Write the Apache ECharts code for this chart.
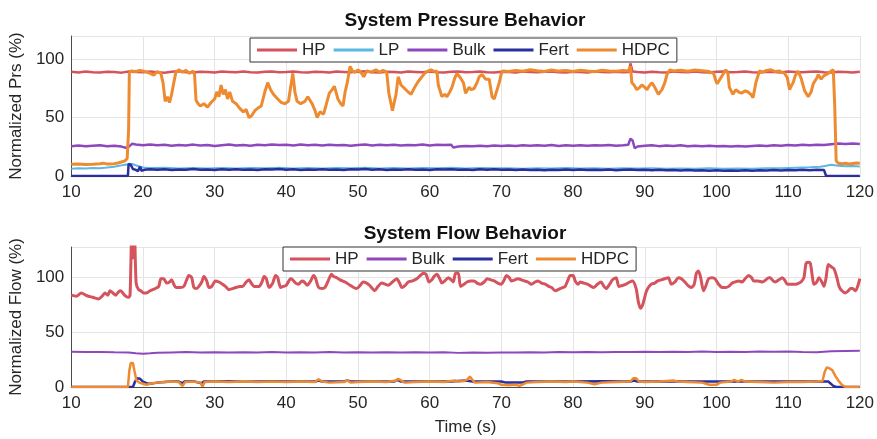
<!DOCTYPE html>
<html>
<head>
<meta charset="utf-8">
<script src="https://cdn.jsdelivr.net/npm/echarts@6/dist/echarts.min.js"></script>
<style>html,body{margin:0;padding:0;background:#fff}#c{width:877px;height:439px}</style>
</head>
<body>
<div id="c"></div>
<script>
// ---------------- data ----------------
const xTicks = [10, 120, 10];           // min, max, step of time axis (s)
const prsTicks = [0, 120, 50];          // pressure axis min, max, step (%)
const flowTicks = [0, 128, 50];         // flow axis min, max, step (%)

const prsLegend = ['HP', 'LP', 'Bulk', 'Fert', 'HDPC'];
const flowLegend = ['HP', 'Bulk', 'Fert', 'HDPC'];

const prsHP = [[10,89.3],[11,88.8],[12,89.5],[13,89.0],[14,88.7],[15,89.4],[16,89.1],[17,88.6],[18,89.6],[19,89.2],[20,88.9],[21,89.5],[22,89.0],[23,88.6],[24,89.3],[25,89.7],[26,89.0],[27,88.8],[28,89.4],[29,89.1],[30,88.7],[31,89.5],[32,89.2],[33,88.9],[34,89.6],[35,89.0],[36,88.8],[37,89.3],[38,89.5],[39,88.9],[40,89.2],[41,89.6],[42,89.0],[43,88.7],[44,89.4],[45,89.1],[46,88.8],[47,89.5],[48,89.2],[49,88.9],[50,89.3],[51,89.7],[52,89.0],[53,88.8],[54,89.4],[55,89.1],[56,88.7],[57,89.5],[58,89.2],[59,88.9],[60,89.6],[61,89.0],[62,88.7],[63,89.3],[64,89.5],[65,88.9],[66,89.2],[67,89.6],[68,89.0],[69,88.8],[70,89.4],[71,89.1],[72,88.7],[73,89.5],[74,89.2],[75,88.9],[76,89.3],[77,89.6],[78,89.0],[79,88.8],[80,89.4],[81,89.1],[82,88.7],[83,89.5],[84,89.2],[85,88.9],[86,89.3],[87,89.0],[87.8,89.2],[88,96.5],[88.3,89.5],[89,89.1],[90,88.7],[91,89.4],[92,89.0],[93,88.8],[94,89.5],[95,89.2],[96,88.9],[97,89.6],[98,89.0],[99,88.7],[100,89.3],[101,89.5],[102,88.9],[103,89.2],[104,89.6],[105,89.0],[106,88.8],[107,89.4],[108,89.1],[109,88.7],[110,89.5],[111,89.2],[112,88.9],[113,89.3],[114,89.6],[115,89.0],[116,88.8],[117,89.4],[118,89.1],[119,88.7],[120,89.3]];

const prsLP = [[10,6.3],[11,6.7],[12,6.4],[13,6.8],[14,6.6],[15,7.2],[16,7.9],[16.5,8.5],[17,9.1],[17.5,9.6],[18,10.0],[18.5,10.3],[19,9.2],[19.5,8.2],[20,7.3],[21,6.8],[23,7.0],[25,6.4],[27,6.8],[29,6.5],[31,6.9],[33,6.4],[35,6.8],[37,6.6],[39,7.0],[41,6.5],[43,6.8],[45,6.4],[47,6.9],[49,6.6],[51,7.0],[53,6.5],[55,6.8],[57,6.4],[59,6.9],[61,6.7],[63,7.0],[65,6.5],[67,6.8],[69,6.6],[71,6.7],[73,6.3],[75,6.6],[77,6.4],[79,6.8],[81,6.5],[83,6.7],[85,6.3],[87,6.6],[89,6.4],[91,6.7],[93,6.3],[95,6.5],[97,6.2],[99,6.6],[101,6.3],[103,6.5],[105,6.2],[107,6.6],[109,6.7],[111,7.1],[113,7.4],[114.5,8.0],[115.3,8.8],[116,9.6],[117,8.7],[118,8.3],[119,8.5],[120,8.1]];

const prsBulk = [[10,25.6],[11,26.1],[12,25.4],[13,25.9],[14,26.3],[15,25.5],[16,26.0],[17,25.2],[17.6,24.2],[18,25.0],[18.5,27.6],[19,27.0],[20,26.3],[21,27.0],[22,26.4],[23,26.8],[24,26.0],[25,26.6],[26,26.2],[27,26.9],[28,26.1],[29,26.5],[30,25.8],[31,26.4],[32,26.9],[33,26.2],[34,26.6],[35,26.0],[36,26.7],[37,26.3],[38,27.0],[39,26.5],[40,26.8],[41,26.2],[42,26.9],[43,26.4],[44,26.7],[45,26.1],[46,26.8],[47,26.3],[48,26.6],[49,26.0],[50,26.5],[51,26.9],[52,26.2],[53,26.7],[54,26.3],[55,26.8],[56,26.1],[57,26.6],[58,26.4],[59,26.9],[60,26.2],[61,26.7],[62,26.5],[63,26.8],[63.3,24.5],[64,25.3],[65,25.8],[66,25.4],[67,26.0],[68,25.6],[69,26.1],[70,25.7],[71,26.2],[72,25.8],[73,26.3],[74,25.9],[75,26.4],[76,26.0],[77,26.5],[78,25.8],[79,26.3],[80,26.0],[81,26.4],[82,25.9],[83,26.3],[84,26.1],[85,26.6],[86,25.9],[87,26.4],[87.7,26.8],[88,32.0],[88.3,30.5],[88.6,23.8],[89,25.3],[90,25.9],[91,26.4],[92,25.6],[93,26.1],[94,25.8],[95,26.3],[96,25.6],[97,26.0],[98,25.4],[99,25.9],[100,25.5],[101,25.8],[102,25.2],[103,25.7],[104,25.3],[105,25.8],[106,26.2],[107,25.7],[108,26.3],[109,26.0],[110,26.5],[111,26.1],[112,26.7],[113,26.3],[114,26.8],[115,26.5],[116,27.2],[117,27.8],[118,27.4],[119,27.9],[120,27.5]];

const prsFert = [[10,0],[17.9,0],[18.0,10.5],[18.3,9.5],[18.6,6],[19,5.2],[19.3,4.2],[19.6,8],[19.8,4.5],[20.2,5.3],[21,5.8],[22,5.3],[23,5.7],[24,5.2],[25,5.6],[26,5.4],[27,5.9],[28,5.3],[29,5.6],[30,5.2],[31,5.7],[32,5.4],[33,5.8],[34,5.3],[35,5.6],[36,5.2],[37,5.7],[38,5.5],[39,5.9],[40,5.4],[41,5.7],[42,5.2],[43,5.6],[44,5.4],[45,5.8],[46,5.3],[47,5.6],[48,5.2],[49,5.7],[50,5.5],[51,5.9],[52,5.4],[53,5.7],[54,5.2],[55,5.6],[56,5.4],[57,5.8],[58,5.3],[59,5.6],[60,5.2],[61,5.7],[62,5.5],[63,5.8],[64,5.3],[65,5.6],[66,5.2],[67,5.7],[68,5.4],[69,5.8],[70,5.3],[71,5.6],[72,5.2],[73,5.5],[74,5.1],[75,5.4],[76,5.0],[77,5.3],[78,5.1],[79,5.5],[80,5.2],[81,5.6],[82,5.1],[83,5.4],[84,5.2],[85,5.5],[86,5.0],[87,5.4],[88,5.6],[89,5.1],[90,5.4],[91,5.0],[92,5.3],[93,4.9],[94,5.2],[95,4.8],[96,5.1],[97,4.7],[98,5.0],[99,4.6],[100,4.9],[101,4.5],[102,4.8],[103,4.5],[104,4.9],[105,4.6],[106,5.0],[107,4.7],[108,5.1],[109,4.8],[110,5.2],[111,4.9],[112,5.3],[113,5.0],[114,5.4],[115,5.2],[115.25,5.0],[115.3,0],[120,0]];

const prsHDPC = [[10,10.0],[11,10.3],[12,9.8],[13,10.1],[14,10.5],[14.5,11.0],[15,10.2],[16,10.6],[16.5,11.2],[17,12.0],[17.5,13.0],[17.8,15.0],[18.0,40],[18.1,88],[18.3,90],[19,89.5],[19.5,90.5],[20,90],[20.5,89],[21,88],[21.5,86.5],[22,89.5],[22.5,88],[22.8,80],[23.1,64],[23.4,68],[23.7,63],[24.0,70],[24.3,80],[24.6,89],[25,91],[25.5,89],[26,90.5],[26.5,88],[27,90],[27.2,87],[27.4,65],[27.7,62],[28,60],[28.5,62],[29,59],[29.5,63],[30,66],[30.3,72],[30.6,68],[30.9,78],[31.2,70],[31.5,74],[31.8,66],[32.1,72],[32.5,64],[33,62],[33.5,58],[34,55],[34.4,57],[34.8,50],[35.2,52],[35.6,56],[36,58],[36.5,60],[37,72],[37.4,80],[37.8,74],[38.2,70],[38.8,66],[39.3,63],[39.8,62],[40.3,64],[40.7,80],[40.9,88],[41.2,72],[41.5,64],[42,62],[42.6,64],[43,68],[43.6,62],[44,56],[44.3,50],[44.7,55],[45.2,53],[45.6,62],[46,71],[46.4,74],[46.7,77],[47.2,66],[47.6,62],[47.9,60],[48.2,72],[48.5,80],[48.9,94],[49.2,90],[49.6,89],[50,91],[50.5,88],[50.8,85],[51.2,90],[51.8,89],[52.5,91],[53,89],[53.5,90.5],[54,89],[54.3,71],[54.8,56],[55.3,70],[55.6,85],[56,78],[56.5,75],[57,72],[57.4,70],[57.9,76],[58.4,81],[58.9,85],[59.3,88],[59.8,90],[60.2,91],[60.7,89.5],[61,90],[61.2,78],[61.7,68],[62.1,70],[62.4,68],[62.8,72],[63.1,76],[63.5,84],[63.8,88],[64.3,84],[64.7,80],[65,71],[65.5,76],[65.8,74],[66.2,75],[66.6,80],[66.9,85],[67.3,87],[67.8,83],[68.3,83],[68.7,68],[69,66],[69.2,70],[69.5,76],[69.7,80],[70.0,88],[70.2,90],[71,89.5],[72,90.5],[73,89.8],[74,91],[75,90.2],[76,89.6],[77,90.8],[78,89.9],[79,90.4],[80,89.5],[81,90.7],[82,90],[83,89.4],[84,90.6],[85,90.1],[86,89.7],[87,90.5],[87.7,90],[88,94],[88.2,80],[88.5,78],[88.9,74],[89.3,76],[89.6,78],[90,76],[90.3,74],[90.6,77],[91,80],[91.4,76],[91.9,70],[92.4,74],[92.8,80],[93.1,87],[93.5,91],[94,90],[95,90.6],[96,89.8],[97,90.8],[98,90.2],[99,89.5],[99.6,88],[99.9,82],[100.1,79],[100.4,82],[100.6,84],[101,88],[101.3,91],[101.6,88],[101.8,76],[102.3,70],[102.7,74],[103.1,72],[103.5,71],[104,73],[104.4,72],[104.8,70],[105.1,67],[105.5,80],[106,90],[106.5,89],[107,90.5],[107.6,91],[108.2,89.5],[108.8,90],[109.5,88],[109.9,84],[110.2,74],[110.5,78],[110.7,80],[111,86],[111.4,90],[111.8,84],[112.3,73],[112.8,68],[113.2,72],[113.5,79],[114,84],[114.2,87],[114.6,83],[115,86],[115.6,88],[116,90],[116.3,91],[116.5,60],[116.7,13],[117,11],[117.5,10.5],[118,11],[118.5,10.3],[119,10.8],[119.5,11.2],[120,11]];

const flowHP = [[10,84],[10.7,83],[11.4,86],[12,84],[12.4,83],[13,82],[13.8,80.5],[14.3,83],[14.7,86],[15.1,84],[15.4,88],[15.8,86],[16.2,84],[16.6,87],[16.9,88],[17.3,85],[17.6,83],[18.0,82],[18.2,84],[18.45,145],[18.6,118],[18.8,145],[19.05,95],[19.4,89],[19.7,88],[20.1,86],[20.5,86],[21,88],[21.7,90],[22.2,92],[22.5,99],[22.9,99],[23.3,95],[23.7,96],[24,98],[24.3,94],[24.6,91],[25.2,91],[25.7,92],[26.1,98],[26.4,102],[26.8,100],[27.1,91],[27.5,90],[27.8,92],[28.2,96],[28.5,101],[28.9,97],[29.2,91],[29.6,92],[30.1,97],[30.6,96],[31.1,94],[31.5,92],[32,89],[32.5,90],[33,91],[33.5,92],[33.9,92],[34.4,96],[34.8,98],[35.1,95],[35.5,92],[36.2,92],[36.6,96],[36.9,101],[37.2,99],[37.6,91],[38.1,95],[38.5,102],[38.8,100],[39.2,91],[39.6,92],[40,93],[40.6,99],[40.9,98],[41.3,95],[41.7,94],[42.2,97],[42.5,96],[42.9,93],[43.4,97],[43.8,102],[44.1,99],[44.5,91],[45,90],[45.4,91],[45.9,98],[46.3,103],[46.6,101],[47,100],[47.5,98],[48.2,96],[48.9,93],[49.4,91],[49.8,90],[50.3,93],[50.7,96],[51.2,95],[51.6,93],[52,90],[52.3,88],[52.8,92],[53.3,95],[53.8,94],[54.2,93],[54.8,96],[55.4,99],[55.8,95],[56.1,91],[56.6,93],[57,96],[57.6,97],[58.2,99],[58.7,102],[59.1,104],[59.5,103],[59.9,96],[60.3,98],[60.6,101],[61,103],[61.4,99],[61.7,95],[62.1,97],[62.6,100],[63,98],[63.3,96],[63.6,104],[64,104],[64.3,92],[64.8,94],[65.2,96],[65.7,97],[66.2,97],[66.6,95],[67.1,94],[67.6,96],[68,99],[68.5,98],[69,97],[69.5,95],[70,94],[70.4,98],[70.7,102],[71.1,100],[71.4,97],[71.9,98],[72.3,99],[72.8,98],[73.2,97],[73.7,96],[74.2,94],[74.7,96],[75.1,97],[75.6,95],[76.1,94],[76.6,92],[77,91],[77.5,88],[78.2,90],[78.6,91],[78.9,92],[79.3,98],[79.6,102],[80,102],[80.3,97],[80.7,94],[81,96],[81.5,95],[82,94],[82.5,92],[82.9,91],[83.4,94],[83.9,96],[84.3,92],[84.6,90],[85.1,94],[85.5,98],[86,100],[86.4,92],[87,93],[87.4,94],[87.9,96],[88.3,97],[88.8,90],[89.1,78],[89.4,72],[89.7,75],[90,82],[90.2,87],[90.5,91],[90.9,94],[91.4,95],[91.8,97],[92.3,98],[92.8,99],[93.3,100],[93.7,94],[94.2,96],[94.7,100],[95.1,99],[95.6,96],[96,93],[96.5,91],[96.9,94],[97.2,104],[97.5,106],[97.8,100],[98.2,88],[98.5,92],[98.9,99],[99.4,100],[99.8,99],[100.3,94],[100.8,91],[101.3,91],[101.7,92],[102.2,95],[102.6,96],[103.1,97],[103.6,96],[104,99],[104.5,102],[104.9,100],[105.2,97],[105.8,97],[106.4,96],[106.9,98],[107.3,100],[107.5,100],[107.9,97],[108.2,96],[108.7,98],[109.2,100],[109.5,98],[109.9,94],[110.5,94],[111.1,94],[111.5,95],[111.8,96],[112.2,100],[112.5,113],[112.8,114],[113.1,113],[113.4,100],[113.6,94],[114,96],[114.3,100],[114.7,96],[115,92],[115.3,100],[115.6,112],[116,110],[116.4,108],[116.8,100],[117.1,92],[117.5,88],[118,86],[118.4,88],[118.7,90],[119,90],[119.4,88],[119.7,92],[120,99]];

const flowBulk = [[10,32.2],[12,31.9],[14,32.1],[16,31.8],[18,31.6],[19,30.9],[20,30.5],[21,30.8],[22,31.3],[24,31.6],[26,31.9],[28,31.6],[30,31.8],[32,31.5],[34,31.8],[36,31.6],[38,31.9],[40,31.6],[42,31.8],[44,31.5],[46,31.9],[48,31.6],[50,31.8],[52,31.5],[54,31.7],[56,31.5],[58,31.8],[60,31.6],[62,31.8],[64,31.2],[66,31.5],[68,31.3],[70,31.6],[72,31.5],[74,31.8],[76,31.6],[78,31.9],[80,31.7],[82,32.0],[84,31.8],[86,32.1],[88,31.9],[90,32.2],[92,32.0],[94,32.3],[96,32.1],[98,32.4],[100,32.0],[102,32.3],[104,32.1],[106,32.4],[108,32.2],[110,32.5],[112,32.1],[114,31.8],[116,32.6],[118,33.0],[120,33.2]];

const flowFert = [[10,0],[18.6,0],[18.9,5],[19.2,8],[19.6,7.5],[20,5],[20.5,3.5],[21,3],[22,4],[23,4.5],[24,5],[25,5],[25.5,3.5],[25.8,5],[27,5.2],[28.2,3.5],[28.5,5],[30,5],[32,5.2],[34,4.9],[36,5.1],[38,5.2],[40,5],[42,5.1],[44,5],[44.5,6],[45,5],[48,5.1],[48.5,6],[49,5],[52,5.1],[55,5],[55.5,6.5],[56,5],[60,5.1],[63,5],[65,6],[66,5],[70,5],[70.5,4.2],[73,4.2],[73.5,5],[76,5.1],[80,5],[84,5.2],[88,5],[88.5,6],[89,5],[92,5.1],[96,5],[100,5.1],[104,5],[108,5.1],[112,5],[115,5],[115.6,5],[116.3,1],[116.7,0],[120,0]];

const flowHDPC = [[10,0],[17.9,0],[18.1,15],[18.3,22],[18.6,22],[18.8,15],[19.1,6],[19.5,4],[20,3],[20.5,2],[21,3],[22,4],[23,4.5],[24,5],[25,4.5],[25.5,1],[25.9,4.5],[27,5],[28,4],[28.3,0.5],[28.6,4.5],[30,5],[32,4.5],[34,5],[36,4.5],[38,5],[40,4.5],[42,5],[44,4.5],[44.5,7],[45,5],[46,4],[48,4.5],[48.5,6],[49,4],[50,4.5],[52,5],[54,4.5],[55.3,6],[55.6,7.5],[56,6],[56.5,4],[58,4.5],[60,5],[62,4.5],[63.5,6],[64,5],[64.8,5.5],[65.3,7],[65.6,9.5],[65.9,7],[66.3,4],[68,4.5],[69.5,3.5],[70,2],[71,1.5],[72,2],[72.5,1],[73,2.5],[73.5,4],[75,4.5],[77,5],[79,4.5],[80,5],[82,4],[83,2.5],[84,4],[86,4.5],[88,5],[88.4,8],[88.8,8],[89.2,5],[90,4.5],[92,5],[94,6],[94.5,5],[96,4.5],[98,4],[99,2],[100,2],[100.5,4],[102,5],[102.5,6.5],[103,5],[103.5,6.5],[104,5],[106,4.5],[108,4],[110,4.5],[112,4.5],[114,5],[114.8,5.5],[115.1,14],[115.4,18],[115.8,17],[116.2,15],[116.6,10],[117,6],[117.5,2],[118,0],[120,0]];

// ---------------- styling ----------------
const C = { HP: '#d4535d', LP: '#5bb8e2', Bulk: '#8e47bd', Fert: '#2a2f9e', HDPC: '#ee8a30' };
const FONT = '"Liberation Sans", Arial, Helvetica, sans-serif';
const TXT = '#262626';

function line(name, data, gi, width, smooth) {
  return {
    name: name, type: 'line', data: data, xAxisIndex: gi, yAxisIndex: gi,
    symbol: 'none', smooth: smooth || false, animation: false,
    lineStyle: { color: C[name], width: width }, itemStyle: { color: C[name] },
    emphasis: { disabled: true }
  };
}

function xAxis(gi, withName) {
  return {
    type: 'value', gridIndex: gi, min: xTicks[0], max: xTicks[1], interval: xTicks[2],
    axisLine: { show: true, onZero: false, lineStyle: { color: '#4a4a4a', width: 1 } },
    axisTick: { show: false },
    axisLabel: { color: TXT, fontSize: 17, fontFamily: FONT, margin: 8 },
    splitLine: { show: true, lineStyle: { color: '#e4e4e4', width: 1 } },
    name: withName ? 'Time (s)' : '', nameLocation: 'middle', nameGap: 32,
    nameTextStyle: { color: TXT, fontSize: 17, fontFamily: FONT }
  };
}

function yAxis(gi, ticks, name) {
  return {
    type: 'value', gridIndex: gi, min: ticks[0], max: ticks[1], interval: ticks[2],
    axisLine: { show: true, lineStyle: { color: '#4a4a4a', width: 1 } },
    axisTick: { show: false },
    axisLabel: { color: TXT, fontSize: 17, fontFamily: FONT, margin: 7, showMaxLabel: false },
    splitLine: { show: true, lineStyle: { color: '#e4e4e4', width: 1 } },
    name: name, nameLocation: 'middle', nameRotate: 90, nameGap: 42,
    nameTextStyle: { color: TXT, fontSize: 17, fontFamily: FONT }
  };
}

function legend(data, left, top) {
  return {
    data: data, left: left, top: top, orient: 'horizontal',
    icon: 'rect', itemWidth: 40, itemHeight: 3, itemGap: 8,
    padding: [3, 7, 3, 7],
    backgroundColor: '#ffffff', borderColor: '#333333', borderWidth: 1, borderRadius: 0,
    textStyle: { color: TXT, fontSize: 17, fontFamily: FONT, lineHeight: 18 },
    selectedMode: false
  };
}

const chart = echarts.init(document.getElementById('c'), null, { renderer: 'canvas' });
chart.setOption({
  backgroundColor: '#ffffff',
  animation: false,
  grid: [
    { left: 70, top: 36, width: 790, height: 140 },
    { left: 70, top: 247, width: 790, height: 140 }
  ],
  xAxis: [xAxis(0, false), xAxis(1, true)],
  yAxis: [yAxis(0, prsTicks, 'Normalized Prs (%)'), yAxis(1, flowTicks, 'Normalized Flow (%)')],
  legend: [legend(prsLegend, 250, 38), legend(flowLegend, 283, 247)],
  graphic: [
    { type: 'text', x: 465, y: 21, silent: true,
      style: { text: 'System Pressure Behavior', x: 0, y: 0, textAlign: 'center', textVerticalAlign: 'middle',
        font: 'bold 19px ' + FONT, fill: '#111' } },
    { type: 'text', x: 465, y: 234, silent: true,
      style: { text: 'System Flow Behavior', x: 0, y: 0, textAlign: 'center', textVerticalAlign: 'middle',
        font: 'bold 19px ' + FONT, fill: '#111' } }
  ],
  series: [
    line('HP', prsHP, 0, 2.5),
    line('LP', prsLP, 0, 2),
    line('Bulk', prsBulk, 0, 2.5),
    line('Fert', prsFert, 0, 2.5),
    line('HDPC', prsHDPC, 0, 3),
    line('HP', flowHP, 1, 3, 0.25),
    line('Bulk', flowBulk, 1, 2),
    line('Fert', flowFert, 1, 2.5),
    line('HDPC', flowHDPC, 1, 2.5)
  ]
});
</script>
</body>
</html>
